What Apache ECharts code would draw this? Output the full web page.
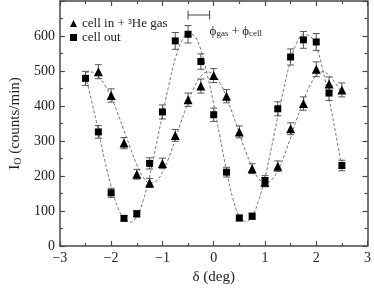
<!DOCTYPE html>
<html>
<head>
<meta charset="utf-8">
<script src="https://cdn.jsdelivr.net/npm/echarts@6/dist/echarts.min.js"></script>
<style>html,body{margin:0;padding:0;background:#fff;}#c{width:374px;height:290px;}</style>
</head>
<body>
<div id="c"></div>
<script>
// ---- data ----
const deltaOut = [-2.5,-2.25,-2,-1.75,-1.5,-1.25,-1,-0.75,-0.5,-0.25,0,0.25,0.5,0.75,1,1.25,1.5,1.75,2,2.25,2.5];
const cellOut  = [479,326,152,79,92,236,383,586,605,527,375,211,80,85,187,392,540,589,583,437,230];
const errOut   = [20,18,13,8,9,16,20,24,25,22,19,14,8,9,14,20,23,24,24,21,15];

const deltaIn  = [-2.25,-2,-1.75,-1.5,-1.25,-1,-0.75,-0.5,-0.25,0,0.25,0.5,0.75,1,1.25,1.5,1.75,2,2.25,2.5];
const cellIn   = [498,430,294,205,180,236,316,418,457,487,428,326,221,182,228,335,407,505,463,446];
const errIn    = [20,19,16,14,13,15,17,19,20,20,19,17,14,13,15,17,19,21,20,20];

const fitDelta = [-2.5,-2.375,-2.25,-2.125,-2,-1.875,-1.75,-1.625,-1.5,-1.375,-1.25,-1.125,-1,-0.875,-0.75,-0.625,-0.5,-0.375,-0.25,-0.125,0,0.125,0.25,0.375,0.5,0.625,0.75,0.875,1,1.125,1.25,1.375,1.5,1.625,1.75,1.875,2,2.125,2.25,2.375,2.5];
const fitOut   = [485,410,330,245,170,112,77,68,85,130,200,285,375,460,535,585,606,600,560,490,405,310,215,135,85,70,85,130,195,280,370,455,530,582,604,600,570,505,420,325,225];
const fitIn    = [495,497,485,460,425,380,330,280,232,197,180,185,210,252,305,360,410,455,485,497,490,465,425,375,322,270,225,193,180,188,215,258,310,365,415,458,487,498,488,465,438];

const phaseBarEnds  = [-0.5, -0.08];
const phaseBarLevel = 660;
const phaseLabelPos = [-0.08, 612];

const nameIn  = 'cell in + \u00B3He gas';
const nameOut = 'cell out';

// ---- chart ----
const FONT = 'Liberation Serif';
const AX = '#4a4a4a';
const chart = echarts.init(document.getElementById('c'), null, {renderer: 'canvas'});
const pairs = (xs, ys) => xs.map((x, i) => [x, ys[i]]);
const triples = (xs, ys, es) => xs.map((x, i) => [x, ys[i], es[i]]);
const minus = v => String(v).replace('-', '\u2212');

function errRender(params, api) {
  const x = api.value(0), y = api.value(1), e = api.value(2);
  const t = api.coord([x, y + e]), b = api.coord([x, y - e]);
  const w = 3.5;
  const st = {stroke: '#555', lineWidth: 1, fill: null};
  return {type: 'group', children: [
    {type: 'line', shape: {x1: t[0], y1: t[1], x2: b[0], y2: b[1]}, style: st},
    {type: 'line', shape: {x1: t[0]-w, y1: t[1], x2: t[0]+w, y2: t[1]}, style: st},
    {type: 'line', shape: {x1: b[0]-w, y1: b[1], x2: b[0]+w, y2: b[1]}, style: st}
  ]};
}

const axisCommon = {
  axisLine: {show: true, onZero: false, lineStyle: {color: AX, width: 1.5}},
  axisTick: {show: true, inside: true, length: 5, lineStyle: {color: AX, width: 1.2}},
  minorTick: {show: true, splitNumber: 2, length: 3, lineStyle: {color: AX, width: 1.2}},
  splitLine: {show: false}
};

chart.setOption({
  animation: false,
  backgroundColor: '#fff',
  grid: {left: 50, right: 5, top: 1, bottom: 44},
  legend: {
    data: [nameIn, nameOut],
    orient: 'vertical', left: 65, top: 12,
    itemWidth: 7, itemHeight: 7, itemGap: 1,
    textStyle: {fontFamily: FONT, fontSize: 13, color: '#222', lineHeight: 13},
    selectedMode: false
  },
  xAxis: [
    Object.assign({type: 'value', min: -3, max: 3, interval: 1, position: 'bottom',
      name: '\u03B4 (deg)', nameLocation: 'middle', nameGap: 23,
      nameTextStyle: {fontFamily: FONT, fontSize: 15, color: '#222'},
      axisLabel: {fontFamily: FONT, fontSize: 14, color: '#222', margin: 5, formatter: minus}}, axisCommon),
    Object.assign({type: 'value', min: -3, max: 3, interval: 1, position: 'top',
      axisLabel: {show: false}}, axisCommon)
  ],
  yAxis: [
    Object.assign({type: 'value', min: 0, max: 700, interval: 100, position: 'left',
      name: '{a|I}{s|O}{a| (counts/min)}', nameLocation: 'middle', nameGap: 35, nameRotate: 90,
      nameTextStyle: {fontFamily: FONT, fontSize: 15, color: '#222',
        rich: {a: {fontFamily: FONT, fontSize: 15, color: '#222'},
               s: {fontFamily: FONT, fontSize: 10, color: '#222', verticalAlign: 'bottom', lineHeight: 10}}},
      axisLabel: {fontFamily: FONT, fontSize: 14, color: '#222', margin: 5,
        formatter: v => v === 700 ? '' : String(v)}}, axisCommon),
    Object.assign({type: 'value', min: 0, max: 700, interval: 100, position: 'right',
      axisLabel: {show: false}}, axisCommon)
  ],
  series: [
    {type: 'line', name: 'fitOut', data: pairs(fitDelta, fitOut), smooth: 0.4, symbol: 'none',
      lineStyle: {color: '#777', width: 1, type: [3, 2]}, silent: true, z: 1},
    {type: 'line', name: 'fitIn', data: pairs(fitDelta, fitIn), smooth: 0.4, symbol: 'none',
      lineStyle: {color: '#777', width: 1, type: [3, 2]}, silent: true, z: 1},
    {type: 'custom', name: 'errOut', renderItem: errRender, data: triples(deltaOut, cellOut, errOut), z: 2},
    {type: 'custom', name: 'errIn', renderItem: errRender, data: triples(deltaIn, cellIn, errIn), z: 2},
    {type: 'scatter', name: nameOut, data: pairs(deltaOut, cellOut), symbol: 'rect', symbolSize: 7,
      itemStyle: {color: '#000', opacity: 1}, z: 3},
    {type: 'scatter', name: nameIn, data: pairs(deltaIn, cellIn), symbol: 'triangle', symbolSize: 9,
      itemStyle: {color: '#000', opacity: 1}, z: 3},
    {type: 'custom', name: 'phase', z: 4,
      data: [[phaseBarEnds[0], phaseBarEnds[1], phaseBarLevel, phaseLabelPos[0], phaseLabelPos[1]]],
      renderItem: function (params, api) {
        const a = api.coord([api.value(0), api.value(2)]);
        const b = api.coord([api.value(1), api.value(2)]);
        const p = api.coord([api.value(3), api.value(4)]);
        const st = {stroke: '#444', lineWidth: 1, fill: null};
        return {type: 'group', children: [
          {type: 'line', shape: {x1: a[0], y1: a[1], x2: b[0], y2: b[1]}, style: st},
          {type: 'line', shape: {x1: a[0], y1: a[1]-4.5, x2: a[0], y2: a[1]+4.5}, style: st},
          {type: 'line', shape: {x1: b[0], y1: b[1]-4.5, x2: b[0], y2: b[1]+4.5}, style: st},
          {type: 'text', x: p[0], y: p[1], style: {
            text: '{p|\u03D5}{s|gas}{p| + \u03D5}{s|cell}',
            verticalAlign: 'middle', align: 'left',
            rich: {p: {fontFamily: FONT, fontSize: 13, fill: '#222'},
                   s: {fontFamily: FONT, fontSize: 9, fill: '#222', verticalAlign: 'bottom', lineHeight: 9}}
          }}
        ]};
      }}
  ]
});
</script>
</body>
</html>
